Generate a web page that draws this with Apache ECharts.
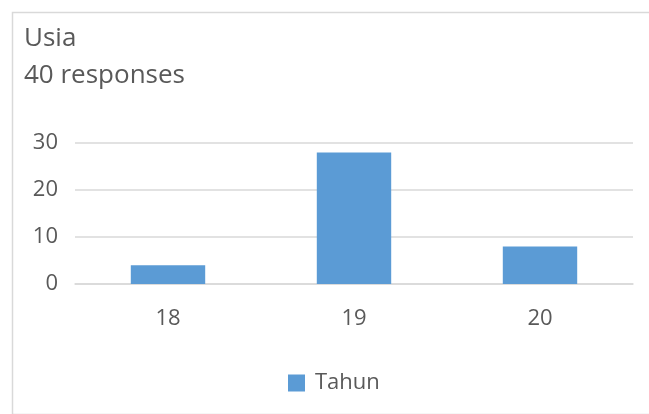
<!DOCTYPE html>
<html>
<head>
<meta charset="utf-8">
<script src="https://cdn.jsdelivr.net/npm/echarts@6/dist/echarts.min.js"></script>
<style>
html,body{margin:0;padding:0;background:#fff;}
#c{width:649px;height:414px;}
</style>
</head>
<body>
<div id="c"></div>
<script>
const categories = ['18', '19', '20'];
const seriesName = 'Tahun';
const values = [4, 28, 8];
const yTicks = [0, 10, 20, 30];

const chart = echarts.init(document.getElementById('c'));
const txt = '#595959';
const font = 'Open Sans';
chart.setOption({
  animation: false,
  graphic: [{
    type: 'rect', left: 10, top: 10,
    shape: { width: 660, height: 402 },
    style: { fill: 'none', stroke: '#d9d9d9', lineWidth: 1.5 }
  }],
  title: [
    { text: 'Usia', left: 19, top: 21, textStyle: { fontFamily: font, fontSize: 26, fontWeight: 'normal', color: txt } },
    { text: '40 responses', left: 19, top: 58, textStyle: { fontFamily: font, fontSize: 26, fontWeight: 'normal', color: txt } }
  ],
  grid: { left: 75, right: 16, top: 143, bottom: 130, containLabel: false },
  legend: {
    data: [seriesName], left: 283, top: 367, itemWidth: 17, itemHeight: 17, itemGap: 8,
    icon: 'rect',
    textStyle: { fontFamily: font, fontSize: 22, color: txt, padding: [0, 0, 0, 5] }
  },
  xAxis: {
    type: 'category', data: categories,
    axisLine: { show: true, lineStyle: { color: '#d9d9d9', width: 1.5 } },
    axisTick: { show: false },
    axisLabel: { fontFamily: font, fontSize: 22, color: txt, margin: 24 }
  },
  yAxis: {
    type: 'value', min: yTicks[0], max: yTicks[yTicks.length - 1], interval: 10,
    axisLine: { show: false }, axisTick: { show: false },
    splitLine: { lineStyle: { color: '#d9d9d9', width: 1.5 } },
    axisLabel: { fontFamily: font, fontSize: 22, color: txt, margin: 17 }
  },
  series: [{
    name: seriesName, type: 'bar', data: values, barWidth: '40%',
    itemStyle: { color: '#5b9bd5' }
  }]
});
</script>
</body>
</html>
